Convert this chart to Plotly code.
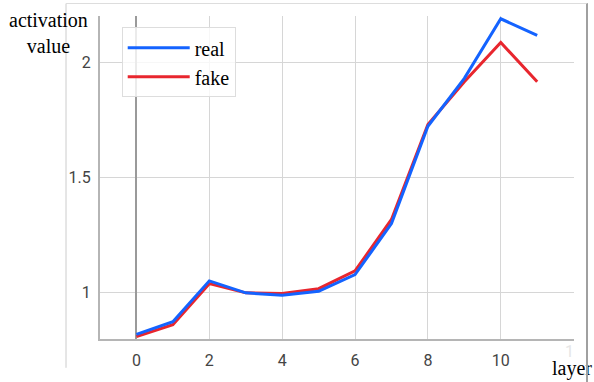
import plotly.graph_objects as go

layers = [0, 1, 2, 3, 4, 5, 6, 7, 8, 9, 10, 11]
real = [0.82, 0.875, 1.052, 1.0, 0.99, 1.007, 1.079, 1.30, 1.722, 1.93, 2.188, 2.116]
fake = [0.81, 0.862, 1.04, 1.0, 0.997, 1.018, 1.095, 1.318, 1.73, 1.915, 2.085, 1.915]
x_ticks = [0, 2, 4, 6, 8, 10, 12]
x_tick_labels = ["0", "2", "4", "6", "8", "10", ""]
y_ticks = [1, 1.5, 2]
y_tick_labels = ["1", "1.5", "2"]

SERIF = "Liberation Serif"
SANS = "Roboto"

fig = go.Figure()
fig.add_trace(go.Scatter(x=layers, y=fake, name="fake", mode="lines",
                         line=dict(color="#e8262e", width=3), legendrank=2,
                         legendgroup="b"))
fig.add_trace(go.Scatter(x=layers, y=real, name="real", mode="lines",
                         line=dict(color="#1463ff", width=3), legendrank=1,
                         legendgroup="a"))

fig.update_layout(
    width=594, height=382,
    margin=dict(l=100, r=20, t=16, b=41),
    paper_bgcolor="white", plot_bgcolor="white",
    showlegend=True,
    legend=dict(x=0.0458, y=0.965, xanchor="left", yanchor="top",
                bgcolor="rgba(255,255,255,0.8)", bordercolor="#dddddd", borderwidth=1,
                font=dict(family=SERIF, size=20, color="black"),
                tracegroupgap=0, itemwidth=62),
    xaxis=dict(range=[-1, 12.01], tickvals=x_ticks, ticktext=x_tick_labels,
               showgrid=True, gridcolor="#d6d6d6", gridwidth=1,
               zeroline=True, zerolinecolor="#9a9a9a", zerolinewidth=2,
               showline=True, linecolor="#b5b5b5", linewidth=2,
               ticks="", ticklabelstandoff=6,
               tickfont=dict(family=SANS, size=16, color="#444444")),
    yaxis=dict(range=[0.8, 2.2], tickvals=y_ticks, ticktext=y_tick_labels,
               showgrid=True, gridcolor="#d6d6d6", gridwidth=1,
               zeroline=False,
               showline=True, linecolor="#b5b5b5", linewidth=2,
               ticks="", ticklabelstandoff=4,
               tickfont=dict(family=SANS, size=16, color="#444444")),
    annotations=[
        dict(text="activation<br>value", xref="paper", yref="paper",
             x=-0.1097, y=0.9477, xanchor="center", yanchor="middle",
             showarrow=False, font=dict(family=SERIF, size=20, color="black")),
        dict(text="layer", xref="paper", yref="paper",
             x=0.9958, y=-0.0923, xanchor="center", yanchor="middle",
             showarrow=False, font=dict(family=SERIF, size=20, color="black")),
        dict(text="1", xref="x", yref="paper", x=11.9, y=-0.04,
             xanchor="center", yanchor="middle", showarrow=False,
             font=dict(family=SANS, size=16, color="#e6e6e6")),
    ],
    shapes=[
        dict(type="line", xref="paper", yref="paper", x0=-0.0717, x1=-0.0717,
             y0=1.0385, y1=-0.0892, line=dict(color="#cccccc", width=1)),
    ],
)

frame_js = (
    "document.body.style.margin='0';"
    "document.body.style.overflow='hidden';"
    "var f=document.createElement('div');"
    "f.style.cssText='position:absolute;left:66px;top:3px;width:520px;height:380px;"
    "border-top:1px solid #dddddd;border-right:2px solid #a0a0a0;"
    "box-sizing:content-box;pointer-events:none;z-index:10;';"
    "document.body.appendChild(f);"
)

fig.write_html("out.html", config={"displayModeBar": False}, post_script=frame_js)
